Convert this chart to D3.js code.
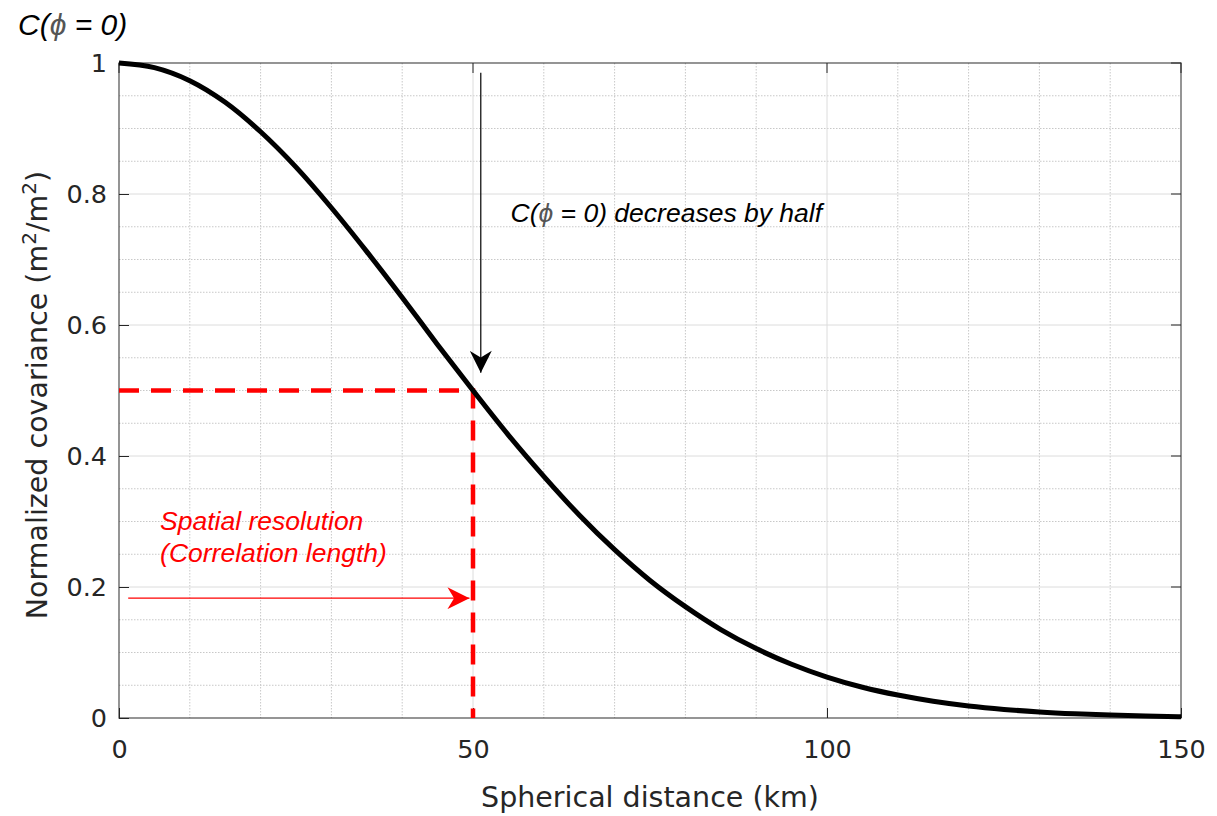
<!DOCTYPE html>
<html><head><meta charset="utf-8">
<script src="https://cdn.jsdelivr.net/npm/d3@7"></script>
<style>body{margin:0;background:#fff}svg{display:block}</style>
</head><body>
<svg id="chart" width="1217" height="816"></svg>
<script>
// Data
const distanceKm = [0,5,10,15,20,25,30,35,40,45,50,55,60,65,70,75,80,85,90,95,100,105,110,115,120,125,130,135,140,145,150];
const covariance = [1,0.993,0.973,0.94,0.895,0.841,0.779,0.712,0.642,0.57,0.5,0.432,0.369,0.31,0.257,0.21,0.17,0.135,0.106,0.082,0.0625,0.047,0.035,0.0256,0.0184,0.0131,0.0092,0.0064,0.0044,0.0029,0.002];
const xTicks = [0,50,100,150];
const yTicks = [0,0.2,0.4,0.6,0.8,1];
const yTickLabels = ["0","0.2","0.4","0.6","0.8","1"];
const halfDistance = 50, halfValue = 0.5;
const blackArrow = {x: 51.1, y1: 0.985, y2: 0.527};
const redArrow = {x1: 1.3, x2: 49.5, y: 0.183};

const svg = d3.select("#chart");
const L=119, R=1181, T=63, B=718;
const x = d3.scaleLinear().domain([0,150]).range([L,R]);
const y = d3.scaleLinear().domain([0,1]).range([B,T]);

const defs = svg.append("defs");
function marker(id,color,w,h){
  defs.append("marker").attr("id",id).attr("viewBox","0 0 20 20").attr("refX",20).attr("refY",10)
    .attr("markerWidth",w).attr("markerHeight",h).attr("markerUnits","userSpaceOnUse").attr("orient","auto")
    .append("path").attr("d","M0,0 L20,10 L0,20 L6,10 Z").attr("fill",color);
}
marker("ab","#000",30,22);
marker("ar","#ff0000",30,22);

const g = svg.append("g");
// minor grid
g.selectAll(".vmin").data(d3.range(10,150,10).filter(d=>d%50)).join("line")
  .attr("x1",d=>x(d)).attr("x2",d=>x(d)).attr("y1",T).attr("y2",B)
  .attr("stroke","#c8c8c8").attr("stroke-width",1).attr("stroke-dasharray","1.5,1.5");
g.selectAll(".hmin").data(d3.range(1,20).map(i=>i*0.05).filter((d,i)=>(i+1)%4)).join("line")
  .attr("x1",L).attr("x2",R).attr("y1",d=>y(d)).attr("y2",d=>y(d))
  .attr("stroke","#c8c8c8").attr("stroke-width",1).attr("stroke-dasharray","1.5,1.5");
// major grid
g.selectAll(".vmaj").data([50,100]).join("line")
  .attr("x1",d=>x(d)).attr("x2",d=>x(d)).attr("y1",T).attr("y2",B)
  .attr("stroke","#dcdcdc").attr("stroke-width",1);
g.selectAll(".hmaj").data([0.2,0.4,0.6,0.8]).join("line")
  .attr("x1",L).attr("x2",R).attr("y1",d=>y(d)).attr("y2",d=>y(d))
  .attr("stroke","#dcdcdc").attr("stroke-width",1);

// axes
const tickCol="#262626";
const xa = svg.append("g").attr("transform",`translate(0,${B})`)
  .call(d3.axisBottom(x).tickValues(xTicks).tickSize(-10).tickPadding(22).tickFormat(d3.format("d")));
const ya = svg.append("g").attr("transform",`translate(${L},0)`)
  .call(d3.axisLeft(y).tickValues(yTicks).tickSize(-10).tickPadding(12).tickFormat((d,i)=>yTickLabels[i]));
[xa,ya].forEach(a=>{
  a.select(".domain").remove();
  a.selectAll(".tick line").attr("stroke",tickCol).attr("stroke-width",1);
  a.selectAll(".tick text").attr("fill",tickCol).attr("font-family","DejaVu Sans").attr("font-size",25.5);
});
// top/right ticks
svg.append("g").selectAll("line").data(xTicks).join("line")
  .attr("x1",d=>x(d)).attr("x2",d=>x(d)).attr("y1",T).attr("y2",T+10).attr("stroke",tickCol);
svg.append("g").selectAll("line").data(yTicks).join("line")
  .attr("x1",R-10).attr("x2",R).attr("y1",d=>y(d)).attr("y2",d=>y(d)).attr("stroke",tickCol);
// box
svg.append("rect").attr("x",L).attr("y",T).attr("width",R-L).attr("height",B-T)
  .attr("fill","none").attr("stroke","#262626").attr("stroke-width",1.3).attr("opacity",0.75);

// red dashed guides
svg.append("path")
  .attr("d",`M${x(0)},${y(halfValue)} L${x(halfDistance)},${y(halfValue)} L${x(halfDistance)},${y(0)}`)
  .attr("fill","none").attr("stroke","#ff0000").attr("stroke-width",4.5).attr("stroke-dasharray","20,12");

// curve
const line = d3.line().x((d,i)=>x(distanceKm[i])).y(d=>y(d)).curve(d3.curveMonotoneX);
svg.append("path").datum(covariance).attr("d",line)
  .attr("fill","none").attr("stroke","#000").attr("stroke-width",5);

// arrows
svg.append("line").attr("x1",x(blackArrow.x)).attr("x2",x(blackArrow.x))
  .attr("y1",y(blackArrow.y1)).attr("y2",y(blackArrow.y2))
  .attr("stroke","#000").attr("stroke-width",1.2).attr("marker-end","url(#ab)");
svg.append("line").attr("x1",x(redArrow.x1)).attr("x2",x(redArrow.x2))
  .attr("y1",y(redArrow.y)).attr("y2",y(redArrow.y))
  .attr("stroke","#ff0000").attr("stroke-width",1.2).attr("marker-end","url(#ar)");

// texts
const ital = "Liberation Sans, Arial, sans-serif";
function phiText(sel, pre, post){
  sel.append("tspan").text(pre);
  sel.append("tspan").attr("fill","#555").text("ϕ");
  sel.append("tspan").text(post);
}
const t1 = svg.append("text").attr("x",18).attr("y",35).attr("font-family",ital)
  .attr("font-style","italic").attr("font-size",30).attr("fill","#000");
phiText(t1,"C(", " = 0)");
const t2 = svg.append("text").attr("x",x(55.3)).attr("y",222).attr("font-family",ital)
  .attr("font-style","italic").attr("font-size",26.5).attr("fill","#000");
phiText(t2,"C(", " = 0) decreases by half");
svg.append("text").attr("x",x(5.8)).attr("y",530).attr("font-family",ital)
  .attr("font-style","italic").attr("font-size",26.5).attr("fill","#ff0000").text("Spatial resolution");
svg.append("text").attr("x",x(5.8)).attr("y",562).attr("font-family",ital)
  .attr("font-style","italic").attr("font-size",26.5).attr("fill","#ff0000").text("(Correlation length)");

svg.append("text").attr("x",650).attr("y",807).attr("text-anchor","middle")
  .attr("font-family","DejaVu Sans").attr("font-size",28.5).attr("fill",tickCol).text("Spherical distance (km)");
const yl = svg.append("text").attr("transform",`translate(47,${395}) rotate(-90)`).attr("text-anchor","middle")
  .attr("font-family","DejaVu Sans").attr("font-size",28.5).attr("fill",tickCol);
yl.append("tspan").text("Normalized covariance (m");
yl.append("tspan").attr("dy",-11).attr("font-size",20).text("2");
yl.append("tspan").attr("dy",11).text("/m");
yl.append("tspan").attr("dy",-11).attr("font-size",20).text("2");
yl.append("tspan").attr("dy",11).text(")");
</script>
</body></html>
